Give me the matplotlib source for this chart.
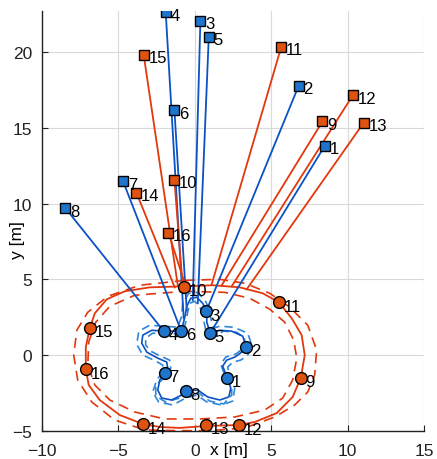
import matplotlib
matplotlib.use("Agg")
import matplotlib.pyplot as plt
import numpy as np

plt.rcParams["font.family"] = ["Liberation Sans", "DejaVu Sans"]

# anchors (squares): blue 1-8, red 9-16
anchor_ids = list(range(1, 17))
anchor_x = [8.51, 6.81, 0.37, -1.90, 0.92, -1.33, -4.69, -8.46,
            8.36, -1.33, 5.67, 10.34, 11.06, -3.82, -3.34, -1.72]
anchor_y = [13.80, 17.78, 22.04, 22.63, 21.01, 16.16, 11.47, 9.69,
            15.41, 11.56, 20.35, 17.13, 15.33, 10.72, 19.80, 8.08]

# cable attach points on the curves
attach_x = [1.01, 0.75, -0.13, -0.72, 0.20, -0.52, -0.88, -2.03,
            1.77, -0.79, 1.11, 2.42, 3.40, -1.31, -1.11, -0.59]
attach_y = [1.45, 2.89, 3.62, 2.43, 3.42, 2.96, 1.58, 1.58,
            4.61, 4.54, 4.67, 4.54, 4.34, 4.47, 4.61, 4.54]

# nodes (circles)
node_x = [2.13, 3.37, 0.75, -2.03, 1.01, -0.88, -1.96, -0.59,
          6.96, -0.67, 5.50, 2.90, 0.77, -3.40, -6.83, -7.13]
node_y = [-1.51, 0.56, 2.89, 1.58, 1.45, 1.58, -1.18, -2.34,
          -1.51, 4.49, 3.49, -4.63, -4.59, -4.56, 1.80, -0.94]

# red loop
red_x = [-0.65, 1.18, 2.95, 4.45, 5.50, 6.35, 7.00, 7.20, 6.94, 6.41, 5.37, 3.93, 2.88, 0.79,
         -0.98, -2.29, -3.40, -4.91, -6.22, -6.94, -7.13, -7.13, -6.87, -6.54, -5.76, -4.58, -2.95, -0.65]
red_y = [4.54, 4.61, 4.47, 4.08, 3.49, 2.43, 1.32, 0.00, -1.51, -2.76, -3.82, -4.41, -4.61, -4.67,
         -4.80, -4.74, -4.54, -3.95, -2.96, -1.97, -0.92, 0.53, 1.78, 2.76, 3.68, 4.21, 4.47, 4.54]
red_out_x = [-0.65, 1.64, 3.27, 4.91, 6.22, 7.40, 7.98, 7.85, 7.40, 6.54, 5.24, 3.27, 0.98,
             -1.31, -3.27, -5.24, -6.74, -7.66, -7.92, -7.72, -7.00, -5.69, -3.60, -0.65]
red_out_y = [4.93, 5.00, 4.74, 4.08, 3.16, 1.97, 0.33, -1.32, -2.43, -3.29, -4.08, -4.80, -4.98,
             -4.98, -4.93, -4.28, -3.09, -1.64, 0.00, 1.64, 2.83, 3.88, 4.61, 4.93]
red_in_x = [-0.65, 1.96, 3.60, 4.91, 5.89, 6.48, 6.68, 6.41, 5.76, 4.58, 2.62, 0.33, -1.96,
            -3.93, -5.56, -6.54, -7.00, -6.94, -6.48, -5.56, -3.93, -0.65]
red_in_y = [4.21, 4.14, 3.75, 3.03, 2.17, 0.99, -0.20, -1.64, -2.83, -3.62, -4.08, -4.21, -4.21,
            -3.75, -2.96, -1.97, -0.66, 0.86, 2.17, 3.22, 3.95, 4.21]

# blue star
blue_x = [0.79, 0.52, 0.13, -0.26, -0.52, -0.65, -0.88, -2.03, -2.81, -3.40, -3.47, -3.14, -2.42,
          -1.83, -1.77, -1.96, -2.29, -2.42, -2.16, -1.51, -0.85, -0.59, 0.20, 0.85, 1.64, 2.23,
          2.36, 2.13, 1.83, 2.09, 2.62, 3.08, 3.37, 3.14, 2.42, 1.64, 1.01, 0.79, 0.79]
blue_y = [2.89, 3.42, 3.82, 3.75, 3.22, 2.50, 1.58, 1.58, 1.64, 1.32, 0.79, 0.20, -0.20,
          -0.46, -0.86, -1.18, -1.64, -2.30, -2.83, -2.96, -2.63, -2.34, -2.30, -2.76, -2.96, -2.76,
          -2.17, -1.51, -0.72, -0.33, -0.13, 0.20, 0.56, 1.25, 1.58, 1.64, 1.45, 2.17, 2.89]
blue_out_x = [0.92, 0.65, 0.13, -0.39, -0.79, -0.85, -1.11, -2.03, -2.95, -3.66, -3.80, -3.40,
              -2.55, -2.09, -2.09, -2.49, -2.75, -2.36, -1.44, -0.59, 0.13, 0.79, 1.77, 2.49,
              2.62, 2.29, 2.16, 2.49, 3.01, 3.47, 3.73, 3.47, 2.55, 1.64, 1.24, 1.05, 0.92]
blue_out_y = [3.09, 3.68, 4.14, 4.08, 3.42, 2.57, 1.84, 1.91, 1.97, 1.58, 0.72, 0.00,
              -0.39, -0.66, -1.12, -1.64, -2.43, -3.09, -3.29, -2.83, -2.63, -3.09, -3.29, -3.03,
              -2.17, -1.38, -0.79, -0.46, -0.33, 0.00, 0.66, 1.45, 1.84, 1.91, 1.78, 2.43, 3.09]
blue_in_x = [0.52, 0.33, 0.00, -0.33, -0.46, -0.59, -0.79, -1.96, -2.75, -3.21, -3.21, -2.88,
             -2.23, -1.64, -1.57, -1.83, -2.55, -2.55, -1.90, -0.98, -0.46, 0.26, 0.98, 1.90,
             2.42, 2.42, 1.96, 1.70, 2.03, 2.68, 3.21, 3.27, 2.75, 1.90, 1.18, 0.72, 0.52]
blue_in_y = [2.63, 3.22, 3.55, 3.42, 2.83, 2.17, 1.45, 1.38, 1.45, 1.12, 0.66, 0.26,
             -0.07, -0.33, -0.86, -1.38, -1.97, -2.70, -3.09, -2.83, -2.50, -2.50, -3.03, -3.22,
             -2.63, -1.97, -1.32, -0.59, -0.13, 0.07, 0.46, 1.12, 1.51, 1.58, 1.25, 1.64, 2.63]

RED = "#e2380c"
RED_FACE = "#e0520f"
BLUE = "#0b52c4"
BLUE_LIGHT = "#2f86d6"
BLUE_FACE = "#1f74cc"

fig = plt.figure(figsize=(4.37, 4.6), dpi=100)
ax = fig.add_axes([0.096, 0.061, 0.874, 0.913])

ax.plot(red_out_x, red_out_y, "--", color=RED, lw=1.2, dashes=(6, 4), zorder=2)
ax.plot(red_in_x, red_in_y, "--", color=RED, lw=1.2, dashes=(6, 4), zorder=2)
ax.plot(red_x, red_y, "-", color=RED, lw=1.3, zorder=2)
ax.plot(blue_out_x, blue_out_y, "--", color=BLUE_LIGHT, lw=1.2, dashes=(5, 3), zorder=2)
ax.plot(blue_in_x, blue_in_y, "--", color=BLUE_LIGHT, lw=1.2, dashes=(5, 3), zorder=2)
ax.plot(blue_x, blue_y, "-", color=BLUE, lw=1.2, zorder=2)

for i, k in enumerate(anchor_ids):
    col = BLUE if k <= 8 else RED
    ax.plot([anchor_x[i], attach_x[i]], [anchor_y[i], attach_y[i]], "-", color=col, lw=1.3, zorder=3)

for i, k in enumerate(anchor_ids):
    face = BLUE_FACE if k <= 8 else RED_FACE
    ax.plot(anchor_x[i], anchor_y[i], "s", ms=7, mfc=face, mec="black", mew=1.0, zorder=5)
    ax.text(anchor_x[i] + 0.3, anchor_y[i] - 0.2, str(k), fontsize=12, va="center", ha="left", zorder=6)
    ax.plot(node_x[i], node_y[i], "o", ms=8.5, mfc=face, mec="black", mew=1.0, zorder=5)
    ax.text(node_x[i] + 0.3, node_y[i] - 0.25, str(k), fontsize=12, va="center", ha="left", zorder=6)

ax.set_xlim(-10, 15)
ax.set_ylim(-5, 22.7)
ax.set_xticks([-10, -5, 0, 5, 10, 15])
ax.set_yticks([-5, 0, 5, 10, 15, 20])
ax.grid(True, color="#d9d9d9", lw=0.8)
ax.set_axisbelow(True)
for s in ["top", "right"]:
    ax.spines[s].set_visible(False)
for s in ["left", "bottom"]:
    ax.spines[s].set_color("#222222")
    ax.spines[s].set_linewidth(1.0)
ax.tick_params(direction="in", length=4, labelsize=12.5, colors="#222222")
ax.tick_params(axis="x", pad=9)
ax.tick_params(axis="y", pad=7)

ax.set_xlabel("x [m]", fontsize=12.5)
ax.set_ylabel("y [m]", fontsize=12.5)
ax.xaxis.set_label_coords(0.49, -0.027, transform=ax.transAxes)
ax.xaxis.label.set_va("top")
ax.yaxis.set_label_coords(-0.045, 0.457)

fig.savefig("out.png", dpi=100)
